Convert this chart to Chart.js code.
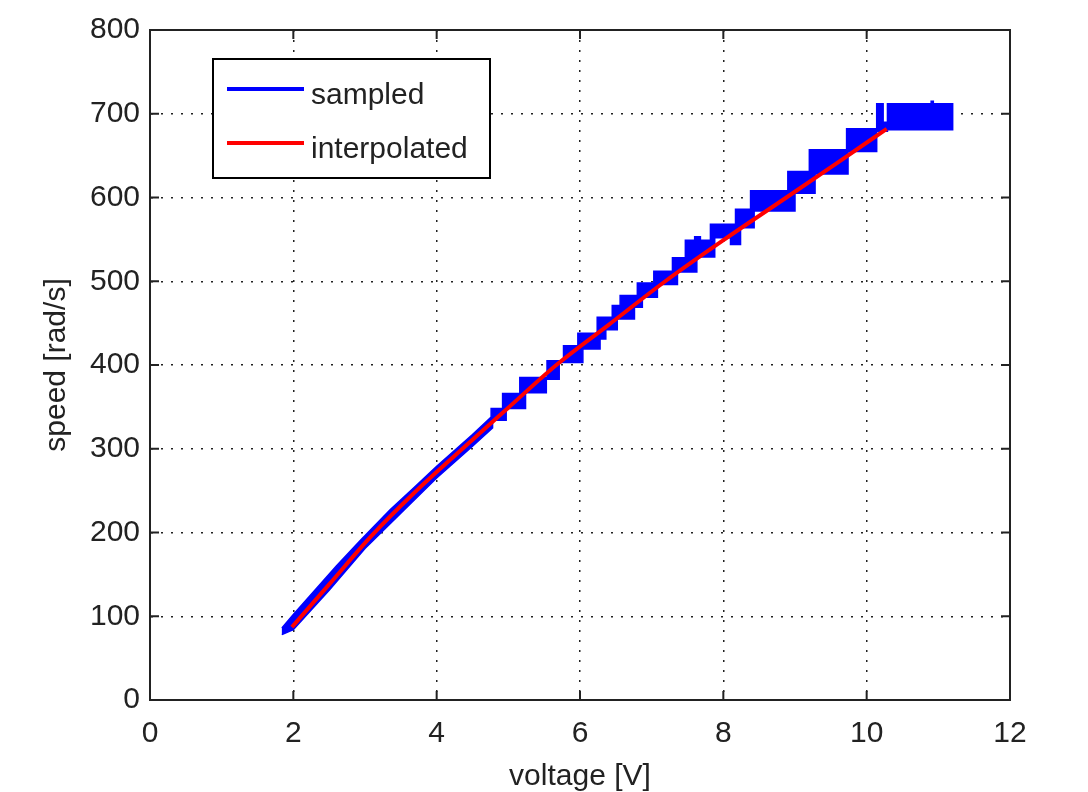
<!DOCTYPE html>
<html>
<head>
<meta charset="utf-8">
<script src="https://cdn.jsdelivr.net/npm/chart.js@4/dist/chart.umd.min.js"></script>
<style>
  body { margin: 0; background: #fff; }
  #wrap { width: 1088px; height: 792px; }
</style>
</head>
<body>
<div id="wrap"><canvas id="speedChart" width="1088" height="792"></canvas></div>
<script>
// axis ticks
const xTickValues = [0, 2, 4, 6, 8, 10, 12];
const yTickValues = [0, 100, 200, 300, 400, 500, 600, 700, 800];

// interpolated curve
const interpVoltage = [1.98, 2.5, 3.09, 3.67, 4.36, 5.0, 5.67, 6.4, 7.19, 8.0, 8.88, 9.6, 10.28];
const interpSpeed = [87, 138, 196, 246, 300, 349, 400, 448, 500, 549, 600, 642, 682];

// sampled data: upper and lower edge of the quantised blue band [voltage, speed]
const sampledUpper = [
    [1.84, 86], [2.0, 102], [2.3, 131], [2.6, 160], [2.93, 190], [3.35, 227], [3.7, 255], [4.0, 279], [4.5, 317], [4.76, 338],
    [4.76, 348], [4.92, 348], [4.92, 366], [5.16, 366], [5.16, 385], [5.54, 385], [5.54, 405], [5.77, 405],
    [5.77, 423], [5.97, 423], [5.97, 438], [6.24, 438], [6.24, 457], [6.45, 457], [6.45, 471], [6.56, 471],
    [6.56, 483], [6.8, 483], [6.8, 498], [7.03, 498], [7.03, 512], [7.29, 512], [7.29, 528], [7.47, 528],
    [7.47, 549], [7.6, 549], [7.6, 553], [7.68, 553], [7.68, 549], [7.82, 549], [7.82, 568], [8.17, 568],
    [8.17, 586], [8.38, 586], [8.38, 608], [8.9, 608], [8.9, 631], [9.2, 631], [9.2, 657], [9.72, 657],
    [9.72, 682], [10.14, 682], [10.14, 712], [10.23, 712], [10.23, 690], [10.29, 690], [10.29, 712],
    [10.9, 712], [10.9, 715], [10.93, 715], [10.93, 712], [11.2, 712], [11.2, 681]
];
const sampledLower = [
    [1.84, 78], [2.0, 84], [2.5, 131], [3.0, 181], [3.5, 223], [4.0, 265], [4.5, 303], [4.78, 325],
    [4.78, 334], [4.97, 334], [4.97, 348], [5.24, 348], [5.24, 367], [5.53, 367], [5.53, 383], [5.71, 383],
    [5.71, 403], [6.04, 403], [6.04, 419], [6.28, 419], [6.28, 431], [6.36, 431], [6.36, 442], [6.52, 442],
    [6.52, 455], [6.76, 455], [6.76, 469], [6.87, 469], [6.87, 481], [7.08, 481], [7.08, 496], [7.36, 496],
    [7.36, 511], [7.63, 511], [7.63, 529], [7.88, 529], [7.88, 552], [8.1, 552], [8.1, 544], [8.24, 544],
    [8.24, 564], [8.43, 564], [8.43, 584], [9.0, 584], [9.0, 605], [9.28, 605], [9.28, 628], [9.74, 628],
    [9.74, 655], [10.14, 655], [10.14, 679], [10.29, 679], [10.29, 681], [11.2, 681]
];

const fontFamily = '"Liberation Sans", Arial, Helvetica, sans-serif';
const textColor = '#222';

// band outline: go along the top, come back along the bottom
const sampledShape = sampledUpper.concat(sampledLower.slice().reverse()).map(p => ({x: p[0], y: p[1]}));
const interpPoints = interpVoltage.map((v, i) => ({x: v, y: interpSpeed[i]}));

// box round the plot + small inward ticks on all four sides
const frame = {
    id: 'frame',
    afterDatasetsDraw(chart) {
        const c = chart.ctx;
        const a = chart.chartArea;
        const xs = chart.scales.x;
        const ys = chart.scales.y;
        c.save();
        c.strokeStyle = textColor;
        c.lineWidth = 2;
        c.strokeRect(a.left, a.top, a.right - a.left, a.bottom - a.top);
        c.beginPath();
        xTickValues.forEach(v => {
            const px = xs.getPixelForValue(v);
            c.moveTo(px, a.bottom); c.lineTo(px, a.bottom - 9);
            c.moveTo(px, a.top); c.lineTo(px, a.top + 9);
        });
        yTickValues.forEach(v => {
            const py = ys.getPixelForValue(v);
            c.moveTo(a.left, py); c.lineTo(a.left + 9, py);
            c.moveTo(a.right, py); c.lineTo(a.right - 9, py);
        });
        c.stroke();
        c.restore();
    }
};

// legend box inside the plot, top left
const legendBox = {
    id: 'legendBox',
    afterDraw(chart) {
        const c = chart.ctx;
        const a = chart.chartArea;
        const x = a.left + 63, y = a.top + 29, w = 277, h = 119;
        c.save();
        c.fillStyle = '#fff';
        c.fillRect(x, y, w, h);
        c.strokeStyle = '#000';
        c.lineWidth = 2;
        c.strokeRect(x, y, w, h);
        chart.data.datasets.forEach((ds, i) => {
            const ly = y + 30 + i * 54;
            c.strokeStyle = ds.borderColor;
            c.lineWidth = 4;
            c.beginPath();
            c.moveTo(x + 14, ly);
            c.lineTo(x + 91, ly);
            c.stroke();
            c.fillStyle = textColor;
            c.font = '30px ' + fontFamily;
            c.textBaseline = 'middle';
            c.fillText(ds.label, x + 98, ly + 7);
        });
        c.restore();
    }
};

const ctx = document.getElementById('speedChart').getContext('2d');
const speedChart = new Chart(ctx, {
    type: 'line',
    data: {
        datasets: [{
            label: 'sampled',
            data: sampledShape,
            borderColor: '#0000ff',
            backgroundColor: '#0000ff',
            borderWidth: 1.5,
            fill: 'shape',
            pointRadius: 0,
            tension: 0,
            order: 2
        }, {
            label: 'interpolated',
            data: interpPoints,
            borderColor: '#ff0000',
            borderWidth: 4,
            fill: false,
            pointRadius: 0,
            cubicInterpolationMode: 'monotone',
            order: 1
        }]
    },
    options: {
        responsive: false,
        animation: false,
        layout: {
            padding: { top: 30, right: 78, left: 0, bottom: 0 }
        },
        plugins: {
            legend: { display: false },
            tooltip: { enabled: false }
        },
        scales: {
            x: {
                type: 'linear',
                min: 0,
                max: 12,
                afterBuildTicks: scale => { scale.ticks = xTickValues.map(v => ({value: v})); },
                afterFit: scale => { scale.height = 92; },
                ticks: {
                    padding: 16,
                    color: textColor,
                    font: { family: fontFamily, size: 30 }
                },
                grid: {
                    color: '#222',
                    lineWidth: 1.5,
                    drawTicks: false
                },
                border: {
                    color: textColor,
                    width: 2,
                    dash: [2, 8]
                },
                title: {
                    display: true,
                    text: 'voltage [V]',
                    color: textColor,
                    padding: 0,
                    font: { family: fontFamily, size: 30, lineHeight: 1 }
                }
            },
            y: {
                type: 'linear',
                min: 0,
                max: 800,
                afterBuildTicks: scale => { scale.ticks = yTickValues.map(v => ({value: v})); },
                afterFit: scale => { scale.width = 150; },
                ticks: {
                    padding: 10,
                    color: textColor,
                    font: { family: fontFamily, size: 30 }
                },
                grid: {
                    color: '#222',
                    lineWidth: 1.5,
                    drawTicks: false
                },
                border: {
                    color: textColor,
                    width: 2,
                    dash: [2, 8]
                },
                title: {
                    display: true,
                    text: 'speed [rad/s]',
                    color: textColor,
                    padding: { top: 39, bottom: 0 },
                    font: { family: fontFamily, size: 30 }
                }
            }
        }
    },
    plugins: [frame, legendBox]
});
</script>
</body>
</html>
